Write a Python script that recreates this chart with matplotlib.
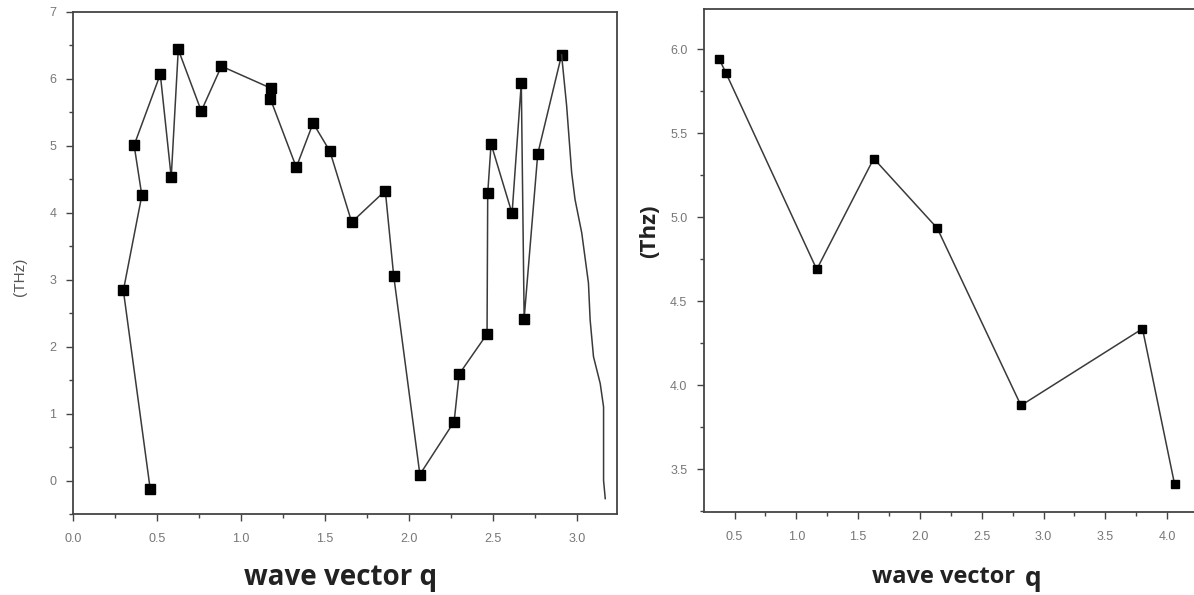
import matplotlib
matplotlib.use('Agg')
import matplotlib.pyplot as plt
from matplotlib.ticker import MultipleLocator

# left panel: dispersion branch with markers, plus unmarked tail
q_left = [0.46, 0.30, 0.41, 0.364, 0.52, 0.585, 0.627, 0.764, 0.884, 1.18, 1.176,
          1.33, 1.43, 1.53, 1.66, 1.86, 1.91, 2.066, 2.27, 2.30, 2.466, 2.47,
          2.49, 2.615, 2.67, 2.687, 2.768, 2.91]
f_left = [-0.13, 2.84, 4.26, 5.01, 6.07, 4.53, 6.44, 5.52, 6.19, 5.86, 5.70,
          4.68, 5.34, 4.92, 3.86, 4.33, 3.06, 0.09, 0.88, 1.59, 2.19, 4.29,
          5.03, 3.99, 5.94, 2.42, 4.88, 6.36]
q_tail = [2.91, 2.94, 2.97, 2.99, 3.03, 3.07, 3.08, 3.10, 3.14, 3.16, 3.16, 3.17]
f_tail = [6.36, 5.6, 4.6, 4.2, 3.7, 2.95, 2.4, 1.85, 1.45, 1.1, 0.0, -0.27]

# right panel
q_right = [0.375, 0.43, 1.165, 1.626, 2.14, 2.817, 3.80, 4.06]
f_right = [5.944, 5.86, 4.69, 5.35, 4.935, 3.88, 4.337, 3.41]

W, H = 1194, 595
fig = plt.figure(figsize=(W / 100, H / 100), dpi=100)

spine_c = '#444444'
line_c = '#3a3a3a'
tick_c = '#777777'


def style(ax):
    for s in ax.spines.values():
        s.set_color(spine_c)
        s.set_linewidth(1.3)
    ax.tick_params(which='both', direction='out', colors=spine_c, labelcolor=tick_c,
                   labelsize=9, top=False, right=False)
    ax.tick_params(which='major', length=5, width=1)
    ax.tick_params(which='minor', length=3, width=1)
    ax.tick_params(axis='x', pad=9)
    ax.tick_params(axis='y', pad=7)
    for lab in ax.get_xticklabels() + ax.get_yticklabels():
        lab.set_family('Liberation Sans')


ax1 = fig.add_axes([73 / W, 1 - 514 / H, (617 - 73) / W, (514 - 12) / H])
ax1.plot(q_left, f_left, '-', color=line_c, lw=1.1, marker='s', ms=6.5,
         mfc='black', mec='black')
ax1.plot(q_tail, f_tail, '-', color=line_c, lw=1.1)
ax1.set_xlim(0, 3.24)
ax1.set_ylim(-0.5, 7)
ax1.xaxis.set_minor_locator(MultipleLocator(0.25))
ax1.yaxis.set_minor_locator(MultipleLocator(0.5))
ax1.set_xticks([0, 0.5, 1.0, 1.5, 2.0, 2.5, 3.0])
ax1.set_xticklabels(['0.0', '0.5', '1.0', '1.5', '2.0', '2.5', '3.0'])
ax1.set_yticks(range(0, 8))
style(ax1)

ax2 = fig.add_axes([704 / W, 1 - 512 / H, (W - 704) / W + 0.002, (512 - 9) / H])
ax2.plot(q_right, f_right, '-', color=line_c, lw=1.1, marker='s', ms=6,
         mfc='black', mec='black')
ax2.set_xlim(0.253, 4.236)
ax2.set_ylim(3.246, 6.24)
ax2.set_xticks([0.5, 1.0, 1.5, 2.0, 2.5, 3.0, 3.5, 4.0])
ax2.set_xticklabels(['0.5', '1.0', '1.5', '2.0', '2.5', '3.0', '3.5', '4.0'])
ax2.xaxis.set_minor_locator(MultipleLocator(0.25))
ax2.set_yticks([3.5, 4.0, 4.5, 5.0, 5.5, 6.0])
ax2.set_yticklabels(['3.5', '4.0', '4.5', '5.0', '5.5', '6.0'])
ax2.yaxis.set_minor_locator(MultipleLocator(0.25))
ax2.spines['right'].set_visible(False)
style(ax2)

# axis labels
fig.text(20 / W, 1 - 277 / H, '(THz)', rotation=90, ha='center', va='center',
         fontsize=11, color='#555555', family='Liberation Sans')
fig.text(341 / W, 1 - 578 / H, 'wave vector q', ha='center', va='center',
         fontsize=20, fontweight='bold', color='#222222', family='Open Sans')
fig.text(650 / W, 1 - 231 / H, '(Thz)', rotation=90, ha='center', va='center',
         fontsize=16, fontweight='bold', color='#222222', family='Open Sans')
fig.text(944 / W, 1 - 577 / H, 'wave vector', ha='center', va='center',
         fontsize=17, fontweight='bold', color='#222222', family='Open Sans')
fig.text(1033 / W, 1 - 578 / H, 'q', ha='center', va='center',
         fontsize=19, fontweight='bold', color='#222222', family='Open Sans')

fig.savefig('out.png', dpi=100)
